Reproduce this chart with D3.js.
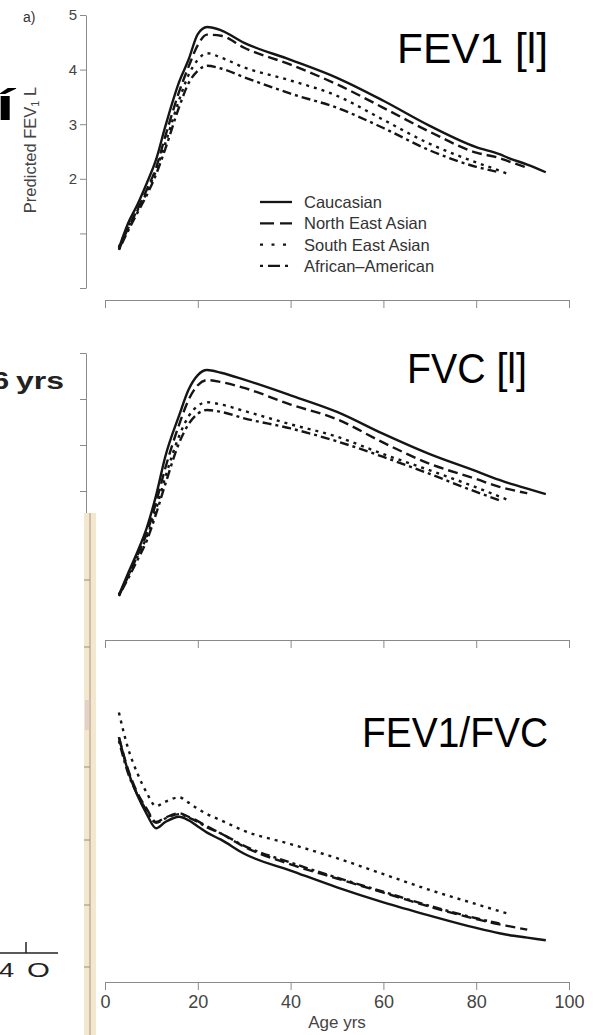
<!DOCTYPE html>
<html>
<head>
<meta charset="utf-8">
<script src="https://cdn.jsdelivr.net/npm/d3@7"></script>
<style>
  body { margin: 0; background: #fff; }
  svg { display: block; }
  text { font-family: "Liberation Sans", Arial, sans-serif; }
</style>
</head>
<body>
<svg id="chart" width="600" height="1035"></svg>
<script>
var ages = [3, 5, 7, 9, 11, 13, 16, 18, 20, 22, 25, 30, 40, 50, 60, 70, 80, 85, 87, 91, 95];

var groups = ['Caucasian', 'North East Asian', 'South East Asian', 'African\u2013American'];

// FEV1 [l] (shorter arrays end earlier)
var fev1Cau = [0.73, 1.19, 1.53, 1.92, 2.35, 2.96, 3.78, 4.18, 4.65, 4.78, 4.72, 4.49, 4.18, 3.85, 3.43, 2.97, 2.58, 2.45, 2.38, 2.26, 2.12];
var fev1NEA = [0.70, 1.10, 1.44, 1.80, 2.20, 2.78, 3.60, 4.05, 4.45, 4.64, 4.62, 4.40, 4.09, 3.73, 3.30, 2.86, 2.48, 2.38, 2.32, 2.20];
var fev1SEA = [0.75, 1.12, 1.42, 1.75, 2.15, 2.65, 3.45, 3.90, 4.18, 4.30, 4.22, 4.04, 3.80, 3.52, 3.08, 2.64, 2.30, 2.15, 2.08];
var fev1AA  = [0.70, 1.05, 1.38, 1.70, 2.08, 2.55, 3.32, 3.75, 3.98, 4.07, 4.02, 3.86, 3.56, 3.30, 2.93, 2.52, 2.22, 2.12];

// FVC [l]
var fvcCau = [0.74, 1.22, 1.68, 2.20, 2.90, 3.75, 4.65, 5.20, 5.52, 5.63, 5.57, 5.42, 5.08, 4.72, 4.24, 3.80, 3.43, 3.24, 3.17, 3.05, 2.93];
var fvcNEA = [0.72, 1.15, 1.60, 2.08, 2.75, 3.50, 4.45, 4.98, 5.30, 5.41, 5.37, 5.24, 4.88, 4.56, 4.05, 3.59, 3.26, 3.09, 3.04, 2.95];
var fvcSEA = [0.75, 1.15, 1.58, 2.00, 2.60, 3.30, 4.20, 4.62, 4.85, 4.93, 4.88, 4.74, 4.45, 4.18, 3.80, 3.45, 3.08, 2.88, 2.80];
var fvcAA  = [0.72, 1.10, 1.50, 1.92, 2.50, 3.15, 4.05, 4.45, 4.68, 4.76, 4.72, 4.58, 4.36, 4.08, 3.74, 3.37, 2.98, 2.80];

// FEV1/FVC
var ratioCau = [0.909, 0.870, 0.843, 0.822, 0.806, 0.813, 0.819, 0.815, 0.808, 0.801, 0.793, 0.777, 0.758, 0.739, 0.722, 0.707, 0.693, 0.687, 0.685, 0.682, 0.679];
var ratioNEA = [0.909, 0.872, 0.846, 0.828, 0.813, 0.818, 0.823, 0.819, 0.814, 0.808, 0.800, 0.785, 0.765, 0.749, 0.733, 0.717, 0.703, 0.697, 0.695, 0.691];
var ratioSEA = [0.937, 0.896, 0.868, 0.846, 0.831, 0.836, 0.841, 0.835, 0.828, 0.822, 0.815, 0.803, 0.788, 0.772, 0.754, 0.736, 0.720, 0.712, 0.709];
var ratioAA  = [0.905, 0.868, 0.844, 0.826, 0.812, 0.817, 0.822, 0.818, 0.813, 0.807, 0.800, 0.786, 0.767, 0.750, 0.734, 0.718, 0.704, 0.698];

var ageTicks = [0, 20, 40, 60, 80, 100];
var fev1Ticks = [0, 1, 2, 3, 4, 5];
var fev1Labels = [2, 3, 4, 5];
var fvcTicks = [3, 4, 5, 6];  // lower ticks are covered by the pasted strip

var svg = d3.select('#chart');
svg.append('rect').attr('width', 600).attr('height', 1035).attr('fill', '#fff');

var inkColor = '#151515',
    axisColor = '#8a8a8a',
    labelColor = '#444';

var curveDash = [null, '10,5', '3,5', '3,4,9,4'];
var legendDash = [null, '14,6', '3,8.5', '3,5,12,5'];

var x = d3.scaleLinear().domain([0, 100]).range([105, 569]);

var yFev1 = d3.scaleLinear().domain([0, 5]).range([288, 15]);
var yFvc = d3.scaleLinear().domain([0, 6]).range([629, 353]);
var yRatio = d3.scaleLinear().domain([0.6, 1.0]).range([1010, 657]);

var panels = [
  { y: yFev1, series: [fev1Cau, fev1NEA, fev1SEA, fev1AA] },
  { y: yFvc, series: [fvcCau, fvcNEA, fvcSEA, fvcAA] },
  { y: yRatio, series: [ratioCau, ratioNEA, ratioSEA, ratioAA] }
];

function drawXAxis(yPos, withLabels) {
  var g = svg.append('g').attr('transform', 'translate(0,' + yPos + ')');
  var axis = d3.axisBottom(x).tickValues(ageTicks).tickSize(8).tickSizeOuter(0)
    .tickFormat(withLabels ? d3.format('d') : '');
  g.call(axis);
  g.select('.domain').attr('stroke', axisColor).attr('stroke-width', 1);
  g.selectAll('.tick line').attr('stroke', axisColor);
  g.selectAll('.tick text')
    .attr('fill', labelColor)
    .attr('font-size', 18)
    .attr('font-family', '"Liberation Sans", Arial, sans-serif')
    .attr('dy', 0).attr('y', 26);
  return g;
}

function drawYAxis(scale, ticks, labels) {
  var g = svg.append('g').attr('transform', 'translate(86,0)');
  var axis = d3.axisLeft(scale).tickValues(ticks).tickSize(6).tickSizeOuter(0)
    .tickFormat(function(d) { return labels.indexOf(d) >= 0 ? d : ''; });
  g.call(axis);
  g.select('.domain').attr('stroke', axisColor);
  g.selectAll('.tick line').attr('stroke', axisColor);
  g.selectAll('.tick text')
    .attr('fill', labelColor)
    .attr('font-size', 15)
    .attr('font-family', '"Liberation Sans", Arial, sans-serif')
    .attr('x', -9);
}

drawYAxis(yFev1, fev1Ticks, fev1Labels);
drawYAxis(yFvc, fvcTicks, []);

drawXAxis(300, false);
drawXAxis(640, false);
var bottomAxis = drawXAxis(982, true);
bottomAxis.append('text')
  .attr('x', 337).attr('y', 46)
  .attr('text-anchor', 'middle')
  .attr('font-size', 17)
  .attr('fill', labelColor)
  .text('Age yrs');

// curves
panels.forEach(function(p) {
  var line = d3.line()
    .x(function(d, i) { return x(ages[i]); })
    .y(function(d) { return p.y(d); })
    .curve(d3.curveMonotoneX);

  svg.append('g').selectAll('path')
    .data(p.series)
    .enter()
    .append('path')
    .attr('d', line)
    .attr('fill', 'none')
    .attr('stroke', inkColor)
    .attr('stroke-width', 2.4)
    .attr('stroke-linejoin', 'round')
    .attr('stroke-dasharray', function(d, i) { return curveDash[i]; });
});

// legend
var legend = svg.append('g').attr('transform', 'translate(260,202)');
groups.forEach(function(name, i) {
  var row = legend.append('g').attr('transform', 'translate(0,' + (i * 21.3) + ')');
  row.append('line')
    .attr('x1', 0).attr('x2', 32)
    .attr('stroke', inkColor).attr('stroke-width', 2.3)
    .attr('stroke-dasharray', legendDash[i]);
  row.append('text')
    .attr('x', 44).attr('y', 6)
    .attr('font-size', 16.5)
    .attr('fill', '#333')
    .text(name);
});

// y label of the first panel
svg.append('text')
  .attr('transform', 'translate(36,150) rotate(-90)')
  .attr('text-anchor', 'middle')
  .attr('font-size', 16.5)
  .attr('fill', labelColor)
  .call(function(t) {
    t.append('tspan').text('Predicted FEV');
    t.append('tspan').attr('font-size', 11).attr('dy', 3).text('1');
    t.append('tspan').attr('dy', -3).text(' L');
  });

svg.append('text').attr('x', 23).attr('y', 22).attr('font-size', 14).attr('fill', '#333').text('a)');

// big titles
var titles = [
  { text: 'FEV1 [l]', x: 397, y: 63, w: 151 },
  { text: 'FVC [l]', x: 407, y: 383, w: 120 },
  { text: 'FEV1/FVC', x: 362, y: 747, w: 186 }
];
svg.selectAll('text.title')
  .data(titles)
  .enter()
  .append('text')
  .attr('class', 'title')
  .attr('x', function(d) { return d.x; })
  .attr('y', function(d) { return d.y; })
  .attr('textLength', function(d) { return d.w; })
  .attr('lengthAdjust', 'spacingAndGlyphs')
  .attr('font-family', 'Lato, "Open Sans", sans-serif')
  .attr('font-size', 43)
  .attr('fill', '#000')
  .text(function(d) { return d.text; });

// pieces of neighbouring figures at the left edge
svg.append('text')
  .attr('transform', 'translate(-4,120) scale(1.5,1)')
  .attr('font-family', 'Lato, sans-serif')
  .attr('font-weight', 'bold')
  .attr('font-size', 44)
  .attr('fill', '#000')
  .text('\u00ed');

svg.append('text')
  .attr('x', 16).attr('y', 389)
  .attr('textLength', 48).attr('lengthAdjust', 'spacingAndGlyphs')
  .attr('font-weight', 'bold').attr('font-size', 24).attr('fill', '#222')
  .text('yrs');
svg.append('text')
  .attr('transform', 'translate(9,389) scale(1.3,1)')
  .attr('text-anchor', 'end')
  .attr('font-weight', 'bold').attr('font-size', 23).attr('fill', '#222')
  .text('6');

svg.append('line').attr('x1', 0).attr('x2', 58).attr('y1', 953).attr('y2', 953)
  .attr('stroke', '#222').attr('stroke-width', 1.5);
svg.append('line').attr('x1', 26).attr('x2', 26).attr('y1', 942).attr('y2', 953)
  .attr('stroke', '#222').attr('stroke-width', 1.5);
svg.append('text')
  .attr('transform', 'translate(-1,977) scale(1.3,1)')
  .attr('font-size', 21).attr('fill', '#222').text('4');
svg.append('text')
  .attr('transform', 'translate(27,977) scale(1.4,1)')
  .attr('font-size', 21).attr('fill', '#222').text('O');

// beige scanned strip
var strip = svg.append('g');
strip.append('rect').attr('x', 84).attr('y', 513).attr('width', 12).attr('height', 522)
  .attr('fill', '#f4e7cf');
strip.append('line').attr('x1', 90).attr('x2', 90).attr('y1', 513).attr('y2', 1035)
  .attr('stroke', '#b3a386').attr('stroke-width', 1.2);
strip.selectAll('line.mark')
  .data([580, 647, 767, 840, 905, 967])
  .enter()
  .append('line')
  .attr('class', 'mark')
  .attr('x1', 84).attr('x2', 90)
  .attr('y1', function(d) { return d; }).attr('y2', function(d) { return d; })
  .attr('stroke', '#9c8e74').attr('stroke-width', 1);
strip.append('rect').attr('x', 85).attr('y', 700).attr('width', 5).attr('height', 30)
  .attr('fill', '#d9c2c2').attr('opacity', 0.6);
</script>
</body>
</html>
